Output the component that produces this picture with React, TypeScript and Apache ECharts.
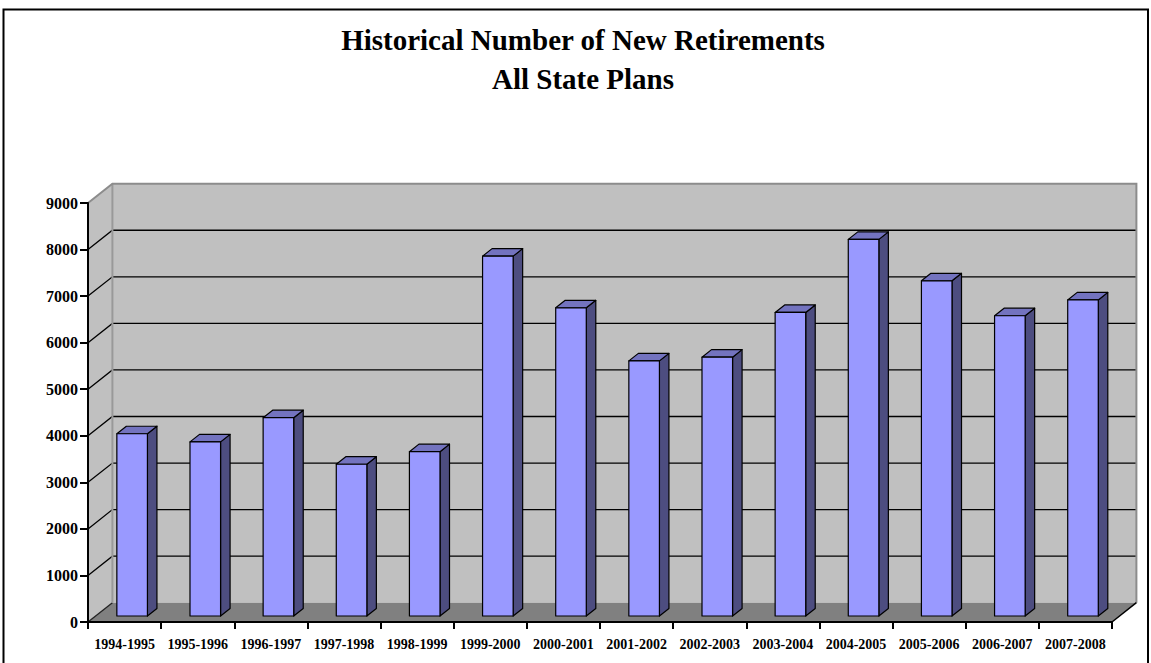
import React, { useEffect, useRef } from "react";
import * as echarts from "echarts";

const TITLE_LINES = ["Historical Number of New Retirements", "All State Plans"];

const CATEGORIES = [
  "1994-1995", "1995-1996", "1996-1997", "1997-1998", "1998-1999",
  "1999-2000", "2000-2001", "2001-2002", "2002-2003", "2003-2004",
  "2004-2005", "2005-2006", "2006-2007", "2007-2008",
];

const NEW_RETIREMENTS = [
  3915, 3740, 4260, 3260, 3530,
  7730, 6620, 5480, 5560, 6520,
  8090, 7200, 6450, 6790,
];

const Y_TICKS = [0, 1000, 2000, 3000, 4000, 5000, 6000, 7000, 8000, 9000];

// 3D depth of the plot box (pixels)
const DX = 24.4;
const DY = 19.3;
const FONT = "'Liberation Serif', 'Times New Roman', serif";

export default function App() {
  const ref = useRef<HTMLDivElement>(null);

  useEffect(() => {
    document.body.style.margin = "0";
    if (!ref.current) return;
    const chart = echarts.init(ref.current, null, { renderer: "svg" });

    const step = Y_TICKS[1] - Y_TICKS[0];

    const wallsRender = (params: any, api: any) => {
      const cs = params.coordSys;
      const x0 = cs.x;
      const x1 = cs.x + cs.width;
      const yZero = api.coord([0, Y_TICKS[0]])[1];
      const yTop = api.coord([0, Y_TICKS[Y_TICKS.length - 1]])[1];
      const children: any[] = [];
      children.push({
        type: "polygon",
        shape: { points: [[x0, yZero], [x0 + DX, yZero - DY], [x0 + DX, yTop - DY], [x0, yTop]] },
        style: { fill: "#C0C0C0", stroke: "none" },
      });
      children.push({
        type: "rect",
        shape: { x: x0 + DX, y: yTop - DY, width: cs.width, height: yZero - yTop },
        style: { fill: "#C0C0C0", stroke: "none" },
      });
      children.push({
        type: "polygon",
        shape: { points: [[x0, yZero], [x1, yZero], [x1 + DX, yZero - DY], [x0 + DX, yZero - DY]] },
        style: { fill: "#808080", stroke: "none" },
      });
      Y_TICKS.slice(1, -1).forEach((v) => {
        const yf = api.coord([0, v])[1];
        children.push({
          type: "polyline",
          shape: { points: [[x0, yf], [x0 + DX, yf - DY], [x1 + DX, yf - DY]] },
          style: { stroke: "#000", lineWidth: 1.3, fill: "none" },
        });
      });
      children.push({
        type: "line",
        shape: { x1: x0, y1: yZero, x2: x0 + DX, y2: yZero - DY },
        style: { stroke: "#222", lineWidth: 1.3 },
      });
      children.push({
        type: "line",
        shape: { x1: x0 + DX, y1: yTop - DY, x2: x0 + DX, y2: yZero - DY },
        style: { stroke: "#999", lineWidth: 2 },
      });
      children.push({
        type: "polyline",
        shape: { points: [[x0, yTop], [x0 + DX, yTop - DY], [x1 + DX, yTop - DY], [x1 + DX, yZero - DY]] },
        style: { stroke: "#8C8C8C", lineWidth: 2, fill: "none" },
      });
      children.push({
        type: "line",
        shape: { x1: x1, y1: yZero, x2: x1 + DX, y2: yZero - DY },
        style: { stroke: "#000", lineWidth: 1.5 },
      });
      return { type: "group", children };
    };

    const barsRender = (params: any, api: any) => {
      const i = api.value(0);
      const v = api.value(1);
      const band = api.size([1, 0])[0];
      const top = api.coord([i, v]);
      const bot = api.coord([i, 0]);
      const w = band * 0.418;
      const ox = DX * 0.31;
      const oy = DY * 0.31;
      const bx = DX * 0.39;
      const by = DY * 0.39;
      const fx0 = top[0] - w / 2 + ox;
      const fx1 = fx0 + w;
      const yT = top[1] - oy;
      const yB = bot[1] - oy;
      const stroke = { stroke: "#000", lineWidth: 1.2, lineJoin: "round" };
      return {
        type: "group",
        children: [
          {
            type: "polygon",
            shape: { points: [[fx1, yB], [fx1, yT], [fx1 + bx, yT - by], [fx1 + bx, yB - by]] },
            style: { fill: "#4D4D80", ...stroke },
          },
          {
            type: "polygon",
            shape: { points: [[fx0, yT], [fx1, yT], [fx1 + bx, yT - by], [fx0 + bx, yT - by]] },
            style: { fill: "#7373BF", ...stroke },
          },
          {
            type: "rect",
            shape: { x: fx0, y: yT, width: w, height: yB - yT },
            style: { fill: "#9999FF", ...stroke },
          },
        ],
      };
    };

    chart.setOption({
      animation: false,
      backgroundColor: "#fff",
      grid: {
        left: 88,
        top: 203,
        width: 1024,
        height: 419,
        containLabel: false,
        outerBoundsMode: "none",
      },
      xAxis: {
        type: "category",
        data: CATEGORIES,
        z: 10,
        boundaryGap: true,
        axisLine: { show: true, lineStyle: { color: "#000", width: 2 } },
        axisTick: { show: true, length: 7, lineStyle: { color: "#000", width: 2 } },
        axisLabel: {
          color: "#000",
          fontFamily: FONT,
          fontWeight: "bold",
          fontSize: 14,
          margin: 15,
          interval: 0,
        },
        splitLine: { show: false },
      },
      yAxis: {
        type: "value",
        min: Y_TICKS[0],
        max: Y_TICKS[Y_TICKS.length - 1],
        interval: step,
        z: 10,
        axisLine: { show: true, lineStyle: { color: "#000", width: 2 } },
        axisTick: { show: true, length: 8, lineStyle: { color: "#000", width: 2 } },
        axisLabel: {
          color: "#000",
          fontFamily: FONT,
          fontWeight: "bold",
          fontSize: 16,
          margin: 10,
          formatter: (val: number) => String(val),
        },
        splitLine: { show: false },
      },
      graphic: [
        {
          type: "rect",
          shape: { x: 3.5, y: 9.5, width: 1144.5, height: 720 },
          style: { fill: "none", stroke: "#000", lineWidth: 2 },
          z: 100,
          silent: true,
        },
        {
          type: "text",
          x: 583,
          y: 40,
          style: {
            text: TITLE_LINES[0],
            fill: "#000",
            font: `bold 29px ${FONT}`,
            align: "center",
            verticalAlign: "middle",
          },
          z: 100,
        },
        {
          type: "text",
          x: 583,
          y: 79,
          style: {
            text: TITLE_LINES[1],
            fill: "#000",
            font: `bold 29px ${FONT}`,
            align: "center",
            verticalAlign: "middle",
          },
          z: 100,
        },
      ],
      series: [
        {
          type: "custom",
          name: "walls",
          silent: true,
          clip: false,
          z: 1,
          renderItem: wallsRender,
          encode: { x: 0, y: 1 },
          data: [[0, 0]],
        },
        {
          type: "custom",
          name: "New Retirements",
          clip: false,
          z: 3,
          renderItem: barsRender,
          encode: { x: 0, y: 1 },
          data: NEW_RETIREMENTS.map((v, i) => [i, v]),
        },
      ],
    });

    return () => chart.dispose();
  }, []);

  return <div ref={ref} style={{ width: 1151, height: 663 }} />;
}
